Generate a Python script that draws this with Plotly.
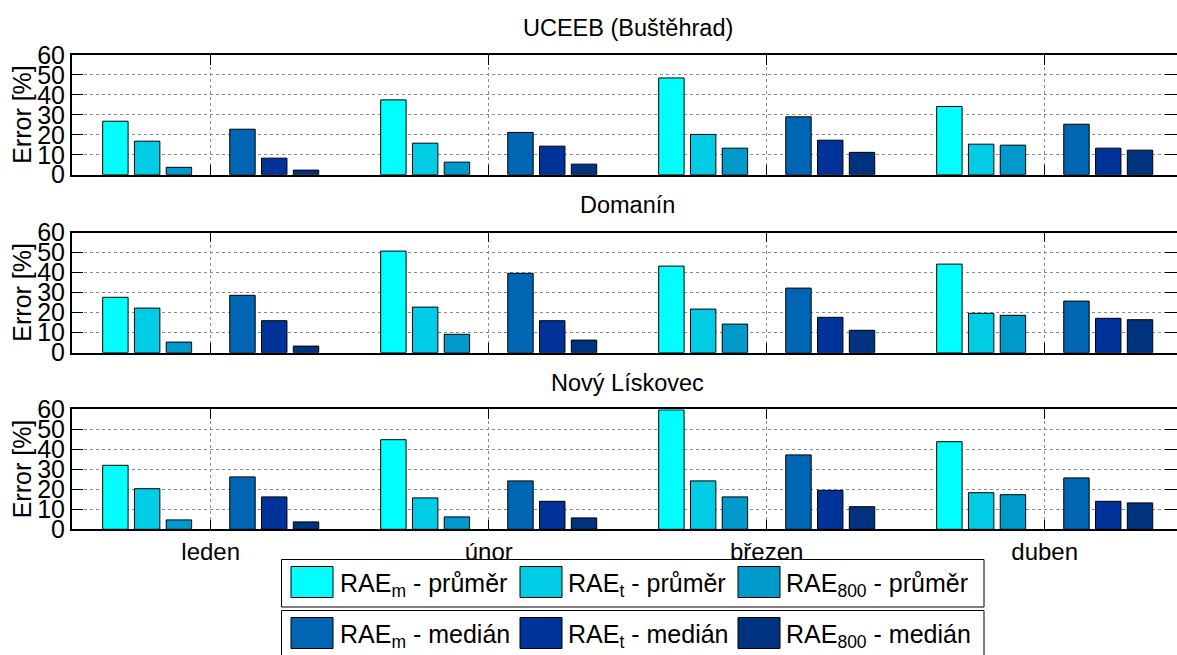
import plotly.graph_objects as go

# Months on the x axis (one group per month)
months = ["leden", "únor", "březen", "duben"]
stations = ["UCEEB (Buštěhrad)", "Domanín", "Nový Lískovec"]

# Error values [%]; rows: RAE_m, RAE_t, RAE_800 ; columns: leden..duben
uceeb_prumer = [[26.8, 37.5, 48.5, 34.2], [16.8, 15.8, 20.2, 15.3], [3.7, 6.3, 13.3, 14.8]]
uceeb_median = [[22.8, 21.2, 29.0, 25.3], [8.3, 14.3, 17.3, 13.3], [2.3, 5.3, 11.2, 12.3]]
domanin_prumer = [[27.7, 50.8, 43.3, 44.3], [22.3, 22.8, 21.8, 19.7], [5.3, 9.2, 14.3, 18.7]]
domanin_median = [[28.7, 39.7, 32.3, 25.8], [16.0, 16.0, 17.7, 17.2], [3.3, 6.3, 11.2, 16.5]]
liskovec_prumer = [[32.0, 44.8, 59.7, 43.8], [20.3, 15.7, 24.2, 18.3], [4.7, 6.2, 16.2, 17.3]]
liskovec_median = [[26.2, 24.2, 37.2, 25.7], [16.2, 14.0, 19.5, 14.0], [3.7, 5.7, 11.3, 13.2]]

series_names = ["RAE<sub>m</sub> - průměr", "RAE<sub>t</sub> - průměr", "RAE<sub>800</sub> - průměr",
                "RAE<sub>m</sub> - medián", "RAE<sub>t</sub> - medián", "RAE<sub>800</sub> - medián"]
colors = ["#00FFFF", "#00CCE6", "#0099CC", "#0066B3", "#003399", "#00337F"]

W, H = 1177, 655
FONT = "Liberation Sans, Arial, sans-serif"

# layout helpers (pixel -> paper)
def px(x):
    return x / W

def py(y):
    return 1 - y / H

# vertical placement of the three panels (top, bottom in pixels)
panels = [(55.0, 174.7), (232.7, 352.7), (409.3, 529.3)]
x_left = 71.7
unit = 278.0  # pixels per month
x_range = [0.5, 0.5 + (W - x_left) / unit]

# 7 slots per month: 3 průměr bars, an empty slot, 3 medián bars
n_slots = 7
group_w = 0.8
slot_w = group_w / n_slots
bar_w = 0.8 * slot_w
slot_index = [0, 1, 2, 4, 5, 6]

data = [(uceeb_prumer, uceeb_median), (domanin_prumer, domanin_median), (liskovec_prumer, liskovec_median)]

fig = go.Figure()
for p, (prumer, median) in enumerate(data):
    rows = prumer + median
    xa = "x" if p == 0 else f"x{p + 1}"
    ya = "y" if p == 0 else f"y{p + 1}"
    for s, vals in enumerate(rows):
        center = (slot_index[s] - (n_slots - 1) / 2) * slot_w
        fig.add_trace(go.Bar(
            x=[1, 2, 3, 4], y=vals, xaxis=xa, yaxis=ya,
            offset=center - bar_w / 2, width=bar_w,
            marker=dict(color=colors[s], line=dict(color="black", width=1)),
            name=series_names[s], showlegend=False,
        ))

layout = dict(
    width=W, height=H,
    margin=dict(l=0, r=0, t=0, b=0, pad=0, autoexpand=False),
    plot_bgcolor="white", paper_bgcolor="white",
    font=dict(family=FONT, size=24, color="black"),
    barmode="overlay", showlegend=False,
)

for p, (top, bottom) in enumerate(panels):
    sfx = "" if p == 0 else str(p + 1)
    layout["xaxis" + sfx] = dict(
        domain=[px(x_left), 1.0], range=x_range,
        anchor="y" + sfx, automargin=False,
        tickvals=[1, 2, 3, 4], ticktext=months,
        showticklabels=(p == 2),
        ticks="inside", ticklen=10, tickcolor="black", tickwidth=1,
        showline=True, linecolor="black", linewidth=1.5, mirror="ticks",
        showgrid=True, gridcolor="#8a8a8a", griddash="dot", gridwidth=1,
        zeroline=False, tickfont=dict(size=24),
    )
    layout["yaxis" + sfx] = dict(
        domain=[py(bottom), py(top)], range=[0, 60],
        anchor="x" + sfx, automargin=False,
        tickvals=[0, 10, 20, 30, 40, 50, 60],
        ticks="inside", ticklen=12, tickcolor="black", tickwidth=1,
        showline=True, linecolor="black", linewidth=1.5, mirror="ticks",
        showgrid=True, gridcolor="#8a8a8a", griddash="dot", gridwidth=1,
        zeroline=False, tickfont=dict(size=25),
    )

fig.update_layout(**layout)

annotations = []
title_y = [28, 205, 383]
for p, (top, bottom) in enumerate(panels):
    annotations.append(dict(
        text=stations[p], x=px((x_left + x_left + 4 * unit) / 2), y=py(title_y[p]),
        xref="paper", yref="paper", xanchor="center", yanchor="middle",
        showarrow=False, font=dict(size=23.5),
    ))
    annotations.append(dict(
        text="Error [%]", x=px(22), y=py((top + bottom) / 2),
        xref="paper", yref="paper", xanchor="center", yanchor="middle",
        textangle=-90, showarrow=False, font=dict(size=25),
    ))

# legend: two framed rows of colour swatches with labels
shapes = []
box_rows = [(559.5, 607.0), (610.5, 660.0)]
sw_x = [291.0, 520.0, 738.0]
txt_x = [338.0, 566.0, 784.0]
for r, (bt, bb) in enumerate(box_rows):
    shapes.append(dict(type="rect", xref="paper", yref="paper",
                       x0=px(281.5), x1=px(984), y0=py(bb), y1=py(bt),
                       line=dict(color="black", width=1), fillcolor="white", layer="above"))
    sw_top = bt + 7
    sw_bot = sw_top + 31
    for c in range(3):
        s = r * 3 + c
        shapes.append(dict(type="rect", xref="paper", yref="paper",
                           x0=px(sw_x[c]), x1=px(sw_x[c] + 42), y0=py(sw_bot), y1=py(sw_top),
                           line=dict(color="black", width=1), fillcolor=colors[s], layer="above"))
        annotations.append(dict(
            text=series_names[s], x=px(txt_x[c]), y=py(sw_top + 18),
            xref="paper", yref="paper", xanchor="left", yanchor="middle",
            showarrow=False, font=dict(size=25),
        ))

fig.update_layout(shapes=shapes, annotations=annotations)

fig.write_html("out.html")
